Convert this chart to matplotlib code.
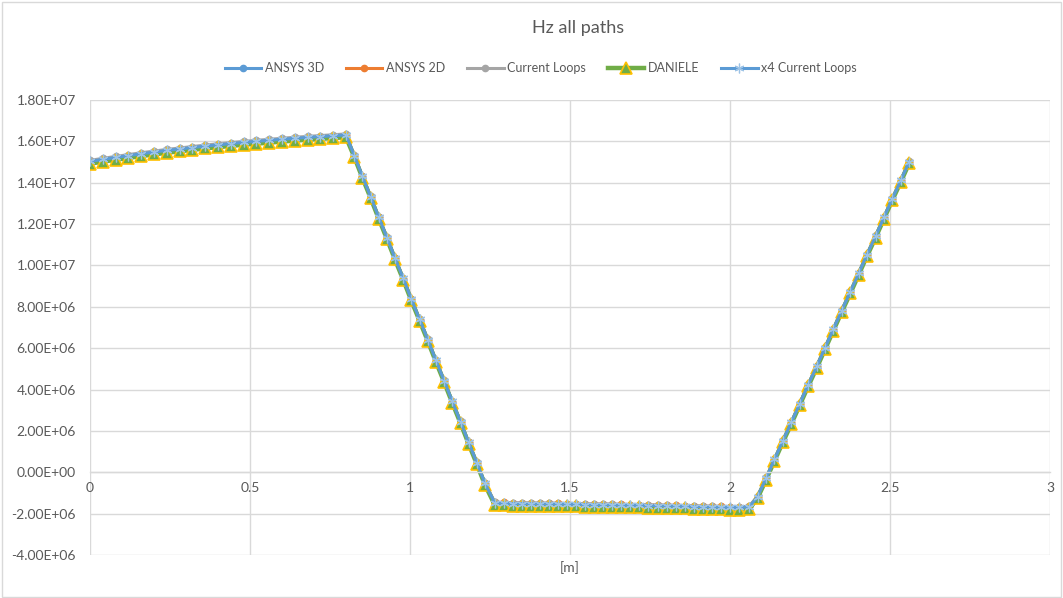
import matplotlib
matplotlib.use("Agg")
import matplotlib.pyplot as plt
from matplotlib.ticker import FuncFormatter, MultipleLocator
from matplotlib.patches import Rectangle

plt.rcParams['font.family'] = ['Lato', 'DejaVu Sans']

# Position along the path [m]
x_m = [0.00, 0.04, 0.08, 0.12, 0.16, 0.20, 0.24, 0.28, 0.32, 0.36, 0.40,
       0.44, 0.48, 0.52, 0.56, 0.60, 0.64, 0.68, 0.72, 0.76, 0.80,
       0.826, 0.851, 0.877, 0.902, 0.928, 0.953, 0.979, 1.004, 1.030,
       1.056, 1.081, 1.107, 1.132, 1.158, 1.183, 1.209, 1.234, 1.265,
       1.293, 1.321, 1.350, 1.378, 1.406, 1.434, 1.463, 1.491, 1.519,
       1.547, 1.576, 1.604, 1.632, 1.660, 1.689, 1.717, 1.745, 1.774,
       1.802, 1.830, 1.858, 1.887, 1.915, 1.943, 1.971, 2.000, 2.028, 2.060,
       2.086, 2.113, 2.139, 2.165, 2.192, 2.218, 2.244, 2.271, 2.297,
       2.323, 2.349, 2.376, 2.402, 2.428, 2.455, 2.481, 2.507, 2.534, 2.560]

# Hz in units of 1e6
hz_ansys_3d = [15.00, 15.10, 15.19, 15.28, 15.37, 15.45, 15.53, 15.60, 15.67, 15.74, 15.80,
               15.86, 15.92, 15.97, 16.02, 16.07, 16.12, 16.16, 16.20, 16.24, 16.28,
               15.29, 14.30, 13.31, 12.32, 11.33, 10.34, 9.35, 8.36, 7.37,
               6.38, 5.39, 4.40, 3.41, 2.42, 1.43, 0.44, -0.55, -1.50,
               -1.52, -1.53, -1.53, -1.54, -1.55, -1.55, -1.56, -1.57, -1.57,
               -1.58, -1.59, -1.59, -1.60, -1.61, -1.62, -1.62, -1.63, -1.64,
               -1.65, -1.66, -1.67, -1.68, -1.69, -1.70, -1.71, -1.72, -1.72, -1.70,
               -1.20, -0.30, 0.60, 1.50, 2.40, 3.30, 4.20, 5.10, 6.00,
               6.90, 7.80, 8.70, 9.60, 10.50, 11.40, 12.30, 13.20, 14.10, 15.00]

hz_ansys_2d = [15.02, 15.12, 15.21, 15.30, 15.39, 15.47, 15.55, 15.62, 15.69, 15.76, 15.82,
               15.88, 15.94, 15.99, 16.04, 16.09, 16.14, 16.18, 16.22, 16.26, 16.30,
               15.30, 14.31, 13.32, 12.33, 11.34, 10.35, 9.36, 8.37, 7.38,
               6.39, 5.40, 4.41, 3.42, 2.43, 1.44, 0.45, -0.54, -1.46,
               -1.46, -1.47, -1.47, -1.48, -1.49, -1.49, -1.50, -1.51, -1.51,
               -1.52, -1.53, -1.53, -1.54, -1.55, -1.56, -1.56, -1.57, -1.58,
               -1.59, -1.60, -1.61, -1.62, -1.63, -1.64, -1.65, -1.66, -1.66, -1.65,
               -1.18, -0.28, 0.62, 1.52, 2.42, 3.32, 4.22, 5.12, 6.02,
               6.92, 7.82, 8.72, 9.62, 10.52, 11.42, 12.32, 13.22, 14.12, 15.02]

hz_current_loops = [15.08, 15.18, 15.27, 15.36, 15.45, 15.53, 15.61, 15.68, 15.75, 15.82, 15.88,
                    15.94, 16.00, 16.05, 16.10, 16.15, 16.20, 16.24, 16.28, 16.32, 16.36,
                    15.33, 14.34, 13.35, 12.36, 11.37, 10.38, 9.39, 8.40, 7.41,
                    6.42, 5.43, 4.44, 3.45, 2.46, 1.47, 0.48, -0.51, -1.45,
                    -1.47, -1.48, -1.48, -1.49, -1.50, -1.50, -1.51, -1.52, -1.52,
                    -1.53, -1.54, -1.54, -1.55, -1.56, -1.57, -1.57, -1.58, -1.59,
                    -1.60, -1.61, -1.62, -1.63, -1.64, -1.65, -1.66, -1.67, -1.67, -1.65,
                    -1.15, -0.25, 0.65, 1.55, 2.45, 3.35, 4.25, 5.15, 6.05,
                    6.95, 7.85, 8.75, 9.65, 10.55, 11.45, 12.35, 13.25, 14.15, 15.05]

hz_daniele = [14.92, 15.02, 15.11, 15.20, 15.29, 15.37, 15.45, 15.52, 15.59, 15.66, 15.72,
              15.78, 15.84, 15.89, 15.94, 15.99, 16.04, 16.08, 16.12, 16.16, 16.20,
              15.24, 14.25, 13.26, 12.27, 11.28, 10.29, 9.30, 8.31, 7.32,
              6.33, 5.34, 4.35, 3.36, 2.37, 1.38, 0.39, -0.60, -1.58,
              -1.60, -1.61, -1.61, -1.62, -1.63, -1.63, -1.64, -1.65, -1.65,
              -1.66, -1.67, -1.67, -1.68, -1.69, -1.70, -1.70, -1.71, -1.72,
              -1.73, -1.74, -1.75, -1.76, -1.77, -1.78, -1.79, -1.80, -1.80, -1.78,
              -1.25, -0.35, 0.55, 1.45, 2.35, 3.25, 4.15, 5.05, 5.95,
              6.85, 7.75, 8.65, 9.55, 10.45, 11.35, 12.25, 13.15, 14.05, 14.95]

hz_x4_loops = [15.03, 15.13, 15.22, 15.31, 15.40, 15.48, 15.56, 15.63, 15.70, 15.77, 15.83,
               15.89, 15.95, 16.00, 16.05, 16.10, 16.15, 16.19, 16.23, 16.27, 16.31,
               15.31, 14.32, 13.33, 12.34, 11.35, 10.36, 9.37, 8.38, 7.39,
               6.40, 5.41, 4.42, 3.43, 2.44, 1.45, 0.46, -0.53, -1.48,
               -1.50, -1.51, -1.51, -1.52, -1.53, -1.53, -1.54, -1.55, -1.55,
               -1.56, -1.57, -1.57, -1.58, -1.59, -1.60, -1.60, -1.61, -1.62,
               -1.63, -1.64, -1.65, -1.66, -1.67, -1.68, -1.69, -1.70, -1.70, -1.68,
               -1.18, -0.28, 0.62, 1.52, 2.42, 3.32, 4.22, 5.12, 6.02,
               6.92, 7.82, 8.72, 9.62, 10.52, 11.42, 12.32, 13.22, 14.12, 15.02]

series_names = ["ANSYS 3D", "ANSYS 2D", "Current Loops", "DANIELE", "x4 Current Loops"]
UNIT = 1e6

TEXT = "#595959"
GRID = "#D9D9D9"

fig = plt.figure(figsize=(10.63, 5.98), dpi=100)
ax = fig.add_axes([90 / 1063, 1 - 555 / 598, 960 / 1063, 455 / 598])

def scaled(vals):
    return [v * UNIT for v in vals]

ax.plot(x_m, scaled(hz_ansys_3d), color="#5B9BD5", lw=2.2, marker="o", ms=4.5,
        mfc="#5B9BD5", mec="#5B9BD5", label=series_names[0])
ax.plot(x_m, scaled(hz_ansys_2d), color="#ED7D31", lw=2.2, marker="o", ms=4.5,
        mfc="#ED7D31", mec="#ED7D31", label=series_names[1])
ax.plot(x_m, scaled(hz_current_loops), color="#A5A5A5", lw=2.2, marker="o", ms=4.5,
        mfc="#A5A5A5", mec="#A5A5A5", label=series_names[2])
ax.plot(x_m, scaled(hz_daniele), color="#70AD47", lw=3.2, marker="^", ms=8,
        mfc="#70AD47", mec="#FFC000", mew=1.2, label=series_names[3])
ax.plot(x_m, scaled(hz_x4_loops), color="#5B9BD5", lw=2.2, marker=(6, 2, 0), ms=7,
        mfc="#9DC3E6", mec="#9DC3E6", mew=0.9, label=series_names[4])

ax.set_xlim(0, 3)
ax.set_ylim(-4e6, 1.8e7)
ax.xaxis.set_major_locator(MultipleLocator(0.5))
ax.yaxis.set_major_locator(MultipleLocator(2e6))
ax.xaxis.set_major_formatter(FuncFormatter(lambda v, p: f"{v:g}"))
ax.yaxis.set_major_formatter(FuncFormatter(lambda v, p: f"{v:.2E}"))

ax.grid(True, color=GRID, lw=1.0)
ax.set_axisbelow(True)
for side in ["top", "right", "left"]:
    ax.spines[side].set_visible(False)
ax.spines["bottom"].set_position(("data", 0))
ax.spines["bottom"].set_color(GRID)
ax.spines["bottom"].set_linewidth(1.0)

ax.tick_params(axis="both", length=0, colors=TEXT, labelsize=10)
ax.tick_params(axis="y", pad=10)
ax.tick_params(axis="x", pad=7)

fig.text(570 / 1063, 1 - 568 / 598, "[m]", ha="center", va="center", color=TEXT, fontsize=10)
fig.text(578 / 1063, 1 - 28 / 598, "Hz all paths", ha="center", va="center", color=TEXT, fontsize=13)

leg = fig.legend(loc="center", bbox_to_anchor=(541 / 1063, 1 - 68 / 598), ncol=5,
                 frameon=False, fontsize=9, handlelength=2.9, handletextpad=0.3,
                 columnspacing=1.75, labelcolor=TEXT)

fig.patches.append(Rectangle((0.002, 0.002), 0.996, 0.995, transform=fig.transFigure,
                             fill=False, edgecolor=GRID, lw=1.0))

fig.savefig("out.png", dpi=100)
